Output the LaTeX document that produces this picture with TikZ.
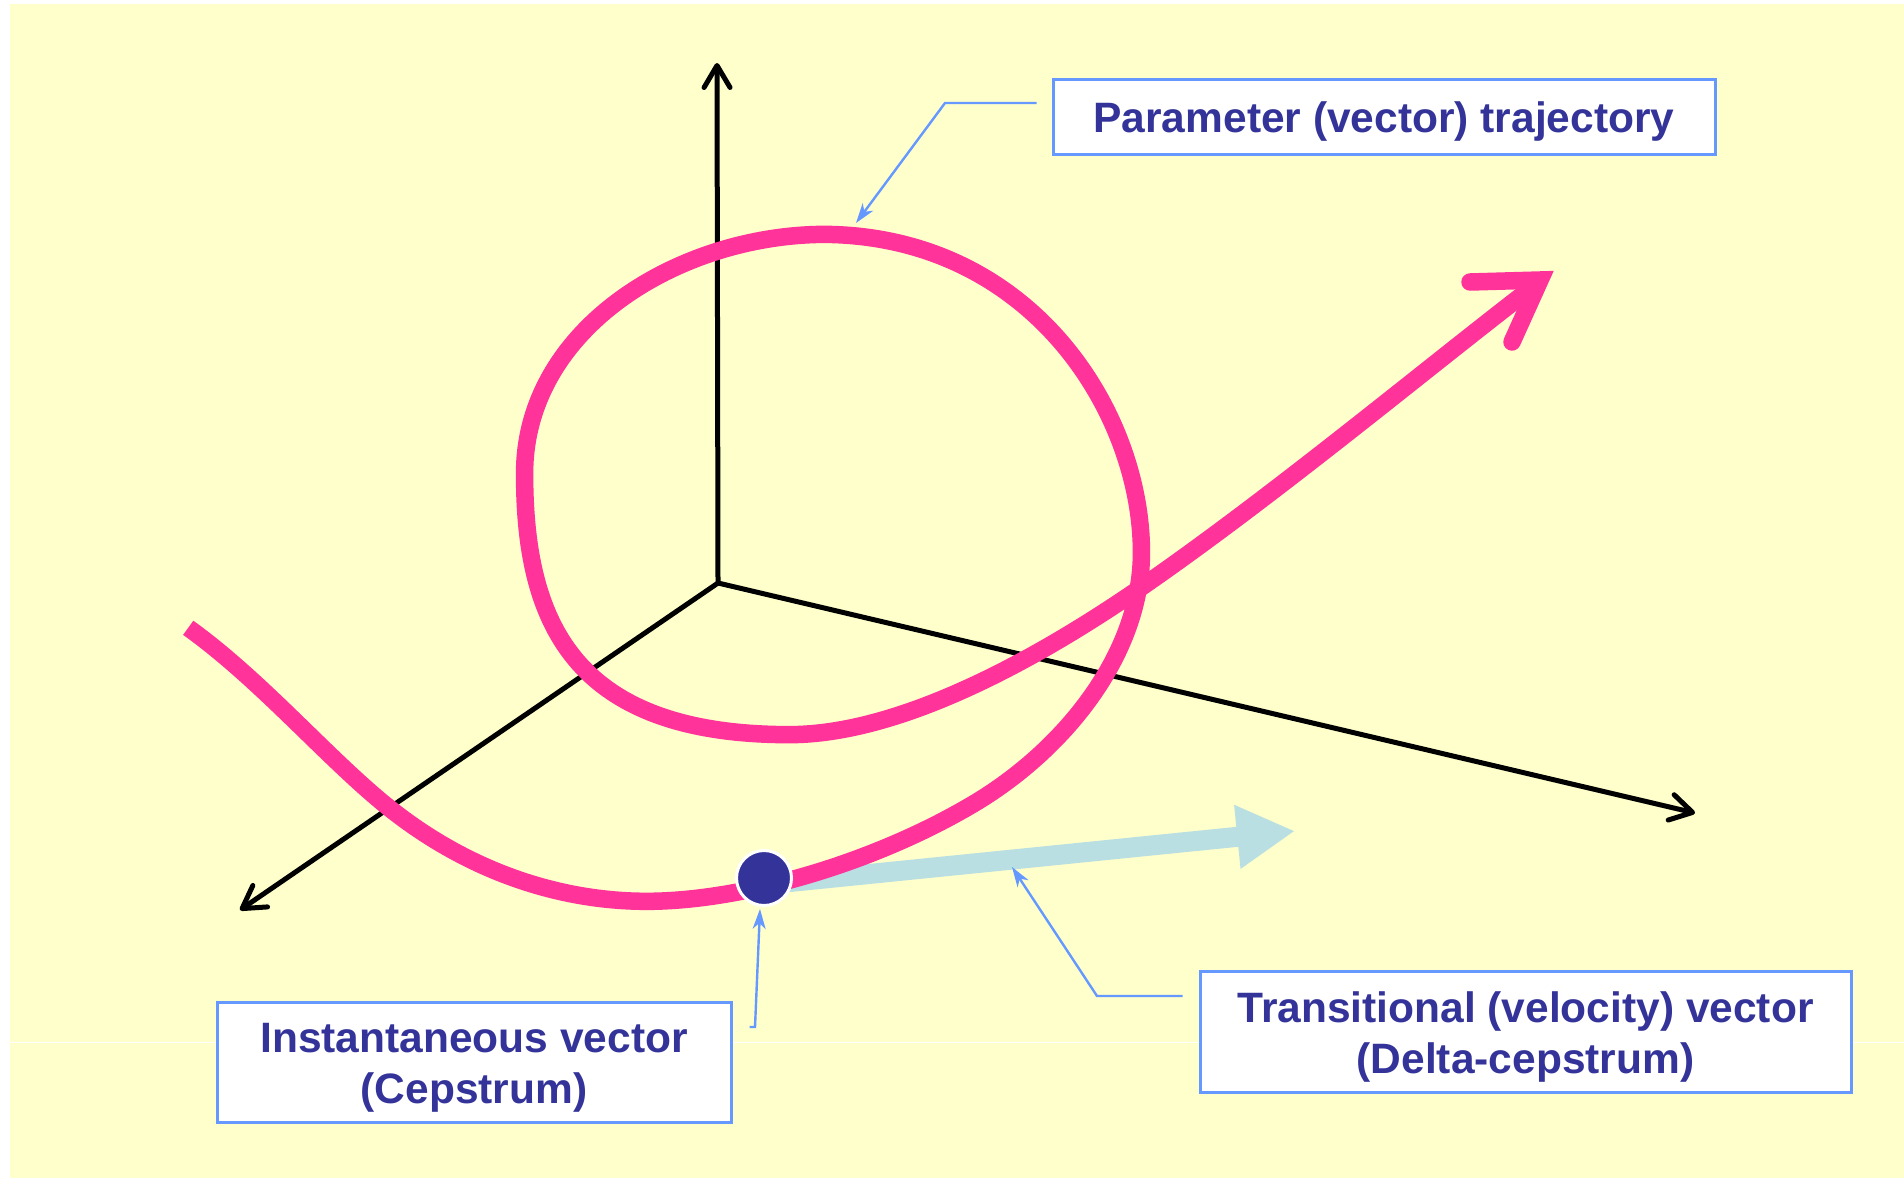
\documentclass[tikz,border=0pt]{standalone}
\usepackage{fontspec}
\setmainfont{Liberation Sans}
\usetikzlibrary{arrows.meta}
\definecolor{bgyellow}{HTML}{FFFFCC}
\definecolor{pinkc}{HTML}{FF3399}
\definecolor{navy}{HTML}{333399}
\definecolor{calloutblue}{HTML}{6699FF}
\definecolor{velblue}{HTML}{B9DFE2}
\newcommand{\lbltext}[1]{\raisebox{-3pt}[\height][\depth]{\begin{tabular}{@{}c@{}}#1\end{tabular}}}
\begin{document}
\begin{tikzpicture}[x=0.5pt,y=-0.5pt,
  axis/.style={line width=2.5pt, draw=black, -{Straight Barb[length=11pt,width=13pt,round]}},
  traj/.style={line width=8.75pt, draw=pinkc},
  labelbox/.style={draw=calloutblue, line width=1.5pt, fill=white, text=navy,
    font=\fontsize{21.25}{25.5}\selectfont\bfseries, align=center, inner sep=0pt},
  callout/.style={draw=calloutblue, line width=1.2pt, -{Stealth[length=10pt,width=6.5pt,inset=3pt]}},
]
\useasboundingbox (0,0) rectangle (1904,1178);
\fill[bgyellow] (10,4) rectangle (1904,1178);
\draw[white, line width=0.5pt] (10,1042) -- (1904,1042);

% axes
\coordinate (O) at (718,583);
\coordinate (zTip) at (717,63);
\coordinate (xTip) at (1695,813);
\coordinate (yTip) at (240,910);
\draw[axis] (O) -- (zTip);
\draw[axis] (O) -- (xTip);
\draw[axis] (O) -- (yTip);

% velocity vector
\coordinate (vStart) at (770,884);
\coordinate (vTip) at (1295,831);
\draw[line width=10pt, velblue, -{Triangle[length=29pt,width=30pt]}] (vStart) -- (vTip);

% trajectory (coordinates in reduced units)
\begin{scope}[scale=1.21429]
\draw[traj] (155,517) .. controls (215,560) and (270,625) .. (320,665)
  .. controls (390,721) and (470,745) .. (545,742)
  .. controls (620,739) and (720,710) .. (800,663)
  .. controls (875,619) and (940,540) .. (940,455)
  .. controls (940,340) and (850,195) .. (680,193)
  .. controls (560,193) and (432,270) .. (432,390)
  .. controls (432,510) and (470,605) .. (650,605)
  .. controls (740,605) and (850,545) .. (935,487)
  .. controls (1050,408) and (1185,295) .. (1268,232);
\end{scope}
\draw[traj, line cap=round, line join=miter] (1470,282) -- (1540,280) -- (1512,342);

% instantaneous point
\node[circle, fill=navy, draw=white, line width=1.5pt, minimum size=27.5pt, inner sep=0pt] (dot) at (764,878) {};

% labels
\node[labelbox, minimum width=331pt, minimum height=37.5pt] (lblTraj) at (1384,116.5) {\lbltext{Parameter (vector) trajectory}};
\node[labelbox, minimum width=257pt, minimum height=60pt] (lblInst) at (474,1062) {\lbltext{Instantaneous vector\\(Cepstrum)}};
\node[labelbox, minimum width=325.5pt, minimum height=60.5pt] (lblTrans) at (1525.5,1031.5) {\lbltext{Transitional (velocity) vector\\(Delta-cepstrum)}};

% callouts
\coordinate (trajBend) at (945,103);
\coordinate (trajPt) at (856,223);
\draw[callout] ([xshift=-7.5pt,yshift=6.75pt]lblTraj.west) -- (trajBend) -- (trajPt);

\coordinate (instBend) at (755,1027);
\coordinate (instPt) at (760,909);
\draw[callout] ([xshift=8.5pt,yshift=17.5pt]lblInst.east) -- (instBend) -- (instPt);

\coordinate (transBend) at (1097,996);
\coordinate (transPt) at (1012,867);
\draw[callout] ([xshift=-8pt,yshift=17.75pt]lblTrans.west) -- (transBend) -- (transPt);
\end{tikzpicture}
\end{document}
